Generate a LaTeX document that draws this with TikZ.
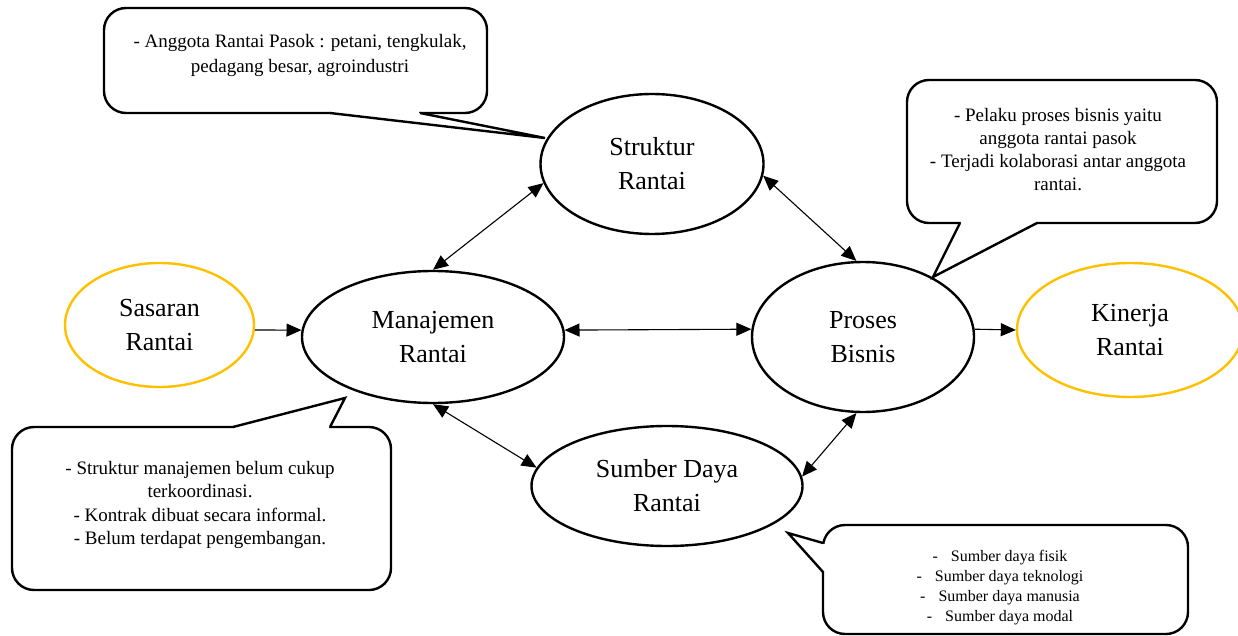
\documentclass[tikz,border=0pt]{standalone}
\usepackage{fontspec}
\setmainfont{Liberation Serif}
\usetikzlibrary{shapes.geometric,arrows.meta}
\definecolor{gold}{HTML}{FFC000}
\begin{document}
\begin{tikzpicture}[x=1pt,y=-1pt,
  oval/.style={ellipse, draw=black, line width=2.4pt, inner sep=0pt, align=center, font=\fontsize{26}{34}\selectfont},
  goal/.style={oval, draw=gold},
  link/.style={line width=1.1pt, {Triangle[length=15pt,width=13pt]}-{Triangle[length=15pt,width=13pt]}},
  flow/.style={line width=1.1pt, -{Triangle[length=15pt,width=13pt]}},
  bubble/.style={draw=black, line width=2.4pt, rounded corners=22pt, fill=white},
  tail/.style={draw=black, line width=2.4pt, line join=miter},
  note/.style={align=center, inner sep=0pt, anchor=north, font=\fontsize{19}{23}\selectfont},
  smallnote/.style={note, font=\fontsize{16}{20}\selectfont},
]
\useasboundingbox (0,0) rectangle (1238,636);

% ellipses
\node[oval, minimum width=223pt, minimum height=140pt] (sr) at (652,164) {Struktur\\Rantai};
\node[oval, minimum width=262pt, minimum height=132pt] (mr) at (433,337) {Manajemen\\Rantai};
\node[oval, minimum width=222pt, minimum height=150pt] (pb) at (863,337) {Proses\\Bisnis};
\node[oval, minimum width=271pt, minimum height=120pt] (sd) at (667,486) {Sumber Daya\\Rantai};
\node[goal, minimum width=189pt, minimum height=124pt] (sa) at (159.5,325) {Sasaran\\Rantai};
\node[goal, minimum width=226pt, minimum height=134pt] (kr) at (1130,330) {Kinerja\\Rantai};

% connectors
\draw[link] (mr.north) -- (sr.190);
\draw[link] (sr.-6) -- (pb.95);
\draw[link] (mr.3) -- (pb.176);
\draw[link] (mr.south) -- (sd.172);
\draw[link] (sd.4) -- (pb.-95);
\draw[flow] (sa.-3) -- (mr.177);
\draw[flow] (pb.4) -- (kr.180);

% callout 1 (top left)
\coordinate (a1) at (330,113); \coordinate (b1) at (420,113); \coordinate (t1) at (545,138);
\draw[bubble] (104,8) rectangle (487,113);
\fill[white] (a1) -- (t1) -- (b1) -- cycle;
\fill[white] (331,109) rectangle (419,117);
\draw[tail] (a1) -- (t1) -- (b1);
\node[note, font=\fontsize{19}{25}\selectfont] (n1) at (300,34) {- Anggota Rantai Pasok : petani, tengkulak,\\pedagang besar, agroindustri};

% callout 2 (top right)
\coordinate (a2) at (960,223); \coordinate (b2) at (1037,223); \coordinate (t2) at (933,277);
\draw[bubble] (907,80) rectangle (1217,223);
\fill[white] (a2) -- (t2) -- (b2) -- cycle;
\fill[white] (961,219) rectangle (1036,227);
\draw[tail] (a2) -- (t2) -- (b2);
\node[note] (n2) at (1058,108) {- Pelaku proses bisnis yaitu\\anggota rantai pasok\\- Terjadi kolaborasi antar anggota\\rantai.};

% callout 3 (bottom left)
\coordinate (a3) at (233,427); \coordinate (b3) at (330,427); \coordinate (t3) at (345,398);
\draw[bubble] (12,427) rectangle (391,590);
\fill[white] (a3) -- (t3) -- (b3) -- cycle;
\fill[white] (234,423) rectangle (329,431);
\draw[tail] (a3) -- (t3) -- (b3);
\node[note, font=\fontsize{19}{23.5}\selectfont] (n3) at (200,461) {- Struktur manajemen belum cukup\\terkoordinasi.\\- Kontrak dibuat secara informal.\\- Belum terdapat pengembangan.};

% callout 4 (bottom right)
\coordinate (a4) at (823,543); \coordinate (b4) at (823,572); \coordinate (t4) at (788,533);
\draw[bubble] (823,525) rectangle (1188,634);
\fill[white] (a4) -- (t4) -- (b4) -- cycle;
\fill[white] (819,544) rectangle (827,571);
\draw[tail] (a4) -- (t4) -- (b4);
\node[smallnote] (n4) at (1000,550) {-\hspace{13pt}Sumber daya fisik\\-\hspace{13pt}Sumber daya teknologi\\-\hspace{13pt}Sumber daya manusia\\-\hspace{13pt}Sumber daya modal};
\end{tikzpicture}
\end{document}
